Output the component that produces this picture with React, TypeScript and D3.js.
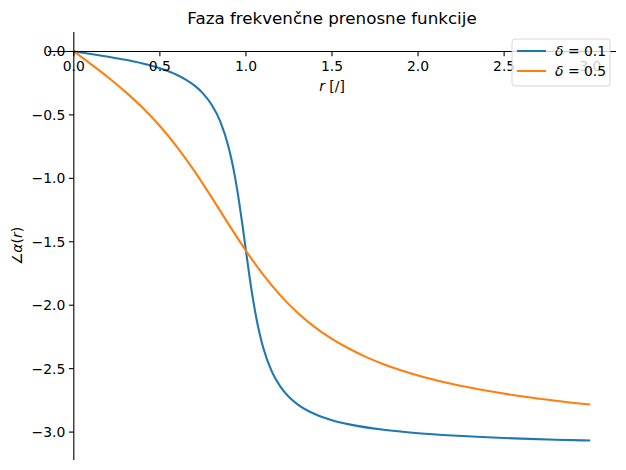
import React from 'react';
import * as d3 from 'd3';

// phase readings, delta = 0.1 (denser around resonance)
const r01 = [0, 0.1, 0.2, 0.3, 0.4, 0.5, 0.6, 0.65, 0.7, 0.75, 0.8, 0.85, 0.9, 0.92, 0.94, 0.96, 0.98, 1.0,
  1.02, 1.04, 1.06, 1.08, 1.1, 1.15, 1.2, 1.25, 1.3, 1.4, 1.5, 1.6, 1.8, 2.0, 2.2, 2.4, 2.6, 2.8, 3.0];
const phase01 = [0, -0.0202, -0.0416, -0.0658, -0.0950, -0.1326, -0.1853, -0.2214, -0.2679, -0.3302, -0.4182,
  -0.5495, -0.7583, -0.8754, -1.0166, -1.1835, -1.3714, -1.5708, -1.7663, -1.9444, -2.0988, -2.2273, -2.3330,
  -2.5220, -2.6423, -2.7234, -2.7810, -2.8578, -2.9061, -2.9393, -2.9822, -3.0090, -3.0275, -3.0411, -3.0516,
  -3.0599, -3.0667];

// phase readings, delta = 0.5
const r05 = [0, 0.1, 0.2, 0.3, 0.4, 0.5, 0.6, 0.7, 0.8, 0.9, 1.0, 1.1, 1.2, 1.3, 1.4, 1.5, 1.6, 1.7, 1.8, 1.9,
  2.0, 2.2, 2.4, 2.6, 2.8, 3.0];
const phase05 = [0, -0.1007, -0.2054, -0.3186, -0.4444, -0.5880, -0.7532, -0.9410, -1.1479, -1.3628, -1.5708,
  -1.7594, -1.9223, -2.0590, -2.1721, -2.2655, -2.3435, -2.4091, -2.4646, -2.5124, -2.5536, -2.6213, -2.6748,
  -2.7176, -2.7529, -2.7828];

const xTicks = [0, 0.5, 1.0, 1.5, 2.0, 2.5, 3.0];
const yTicks = [0, -0.5, -1.0, -1.5, -2.0, -2.5, -3.0];
const legendLabels = ['0.1', '0.5'];

const W = 626;
const H = 470;
const plot = { left: 48, right: 616, top: 32, bottom: 460 };
const font = 'DejaVu Sans, sans-serif';

const fmtTick = (v: number) => {
  const s = v.toFixed(1);
  return v < 0 ? '\u2212' + s.slice(1) : s;
};

const App: React.FC = () => {
  const x = d3.scaleLinear().domain([-0.15, 3.15]).range([plot.left, plot.right]);
  const y = d3.scaleLinear().domain([-3.2200, 0.1533]).range([plot.bottom, plot.top]);

  const line = d3.line<[number, number]>()
    .x(d => x(d[0]))
    .y(d => y(d[1]))
    .curve(d3.curveMonotoneX);

  const series = [
    { r: r01, p: phase01, color: '#1f77b4' },
    { r: r05, p: phase05, color: '#ff7f0e' },
  ];

  const x0 = x(0);
  const y0 = y(0);
  const legendX = 512;
  const legendY = 39;

  return (
    <svg width={W} height={H} style={{ position: 'absolute', left: 0, top: 0 }} fontFamily={font}>
      <rect width={W} height={H} fill="#fff" />
      <text x={(plot.left + plot.right) / 2} y={24} textAnchor="middle" fontSize={16.7}>
        Faza frekvenčne prenosne funkcije
      </text>

      {series.map((s, i) => (
        <path key={i} d={line(s.r.map((r, j) => [r, s.p[j]] as [number, number])) || ''}
          fill="none" stroke={s.color} strokeWidth={2.1} strokeLinejoin="round" />
      ))}

      {/* spines through the origin */}
      <line x1={plot.left} x2={plot.right} y1={y0} y2={y0} stroke="#000" strokeWidth={1.1} />
      <line x1={x0} x2={x0} y1={plot.top} y2={plot.bottom} stroke="#000" strokeWidth={1.1} />

      {xTicks.map(t => (
        <g key={'x' + t} transform={`translate(${x(t)},${y0})`}>
          <line y2={4.9} stroke="#000" strokeWidth={1.1} />
          <text y={20} textAnchor="middle" fontSize={13.9}>{fmtTick(t)}</text>
        </g>
      ))}
      {yTicks.map(t => (
        <g key={'y' + t} transform={`translate(${x0},${y(t)})`}>
          <line x2={-4.9} stroke="#000" strokeWidth={1.1} />
          <text x={-8.5} dy="0.35em" textAnchor="end" fontSize={13.9}>{fmtTick(t)}</text>
        </g>
      ))}

      <text x={(plot.left + plot.right) / 2} y={91} textAnchor="middle" fontSize={13.9}>
        <tspan fontStyle="italic">r</tspan> [/]
      </text>
      <text transform={`translate(22,${(plot.top + plot.bottom) / 2}) rotate(-90)`} textAnchor="middle" fontSize={13.9}>
        ∠<tspan fontStyle="italic">α</tspan>(<tspan fontStyle="italic">r</tspan>)
      </text>

      <g transform={`translate(${legendX},${legendY})`}>
        <rect width={98} height={47} rx={3} fill="#fff" fillOpacity={0.8} stroke="#cccccc" strokeOpacity={0.8} />
        {legendLabels.map((lab, i) => (
          <g key={lab} transform={`translate(0,${12 + i * 20})`}>
            <line x1={5} x2={34} stroke={series[i].color} strokeWidth={2.1} />
            <text x={43} dy="0.35em" fontSize={13.9}>
              <tspan fontStyle="italic">δ</tspan> = {lab}
            </text>
          </g>
        ))}
      </g>
    </svg>
  );
};

export default App;
